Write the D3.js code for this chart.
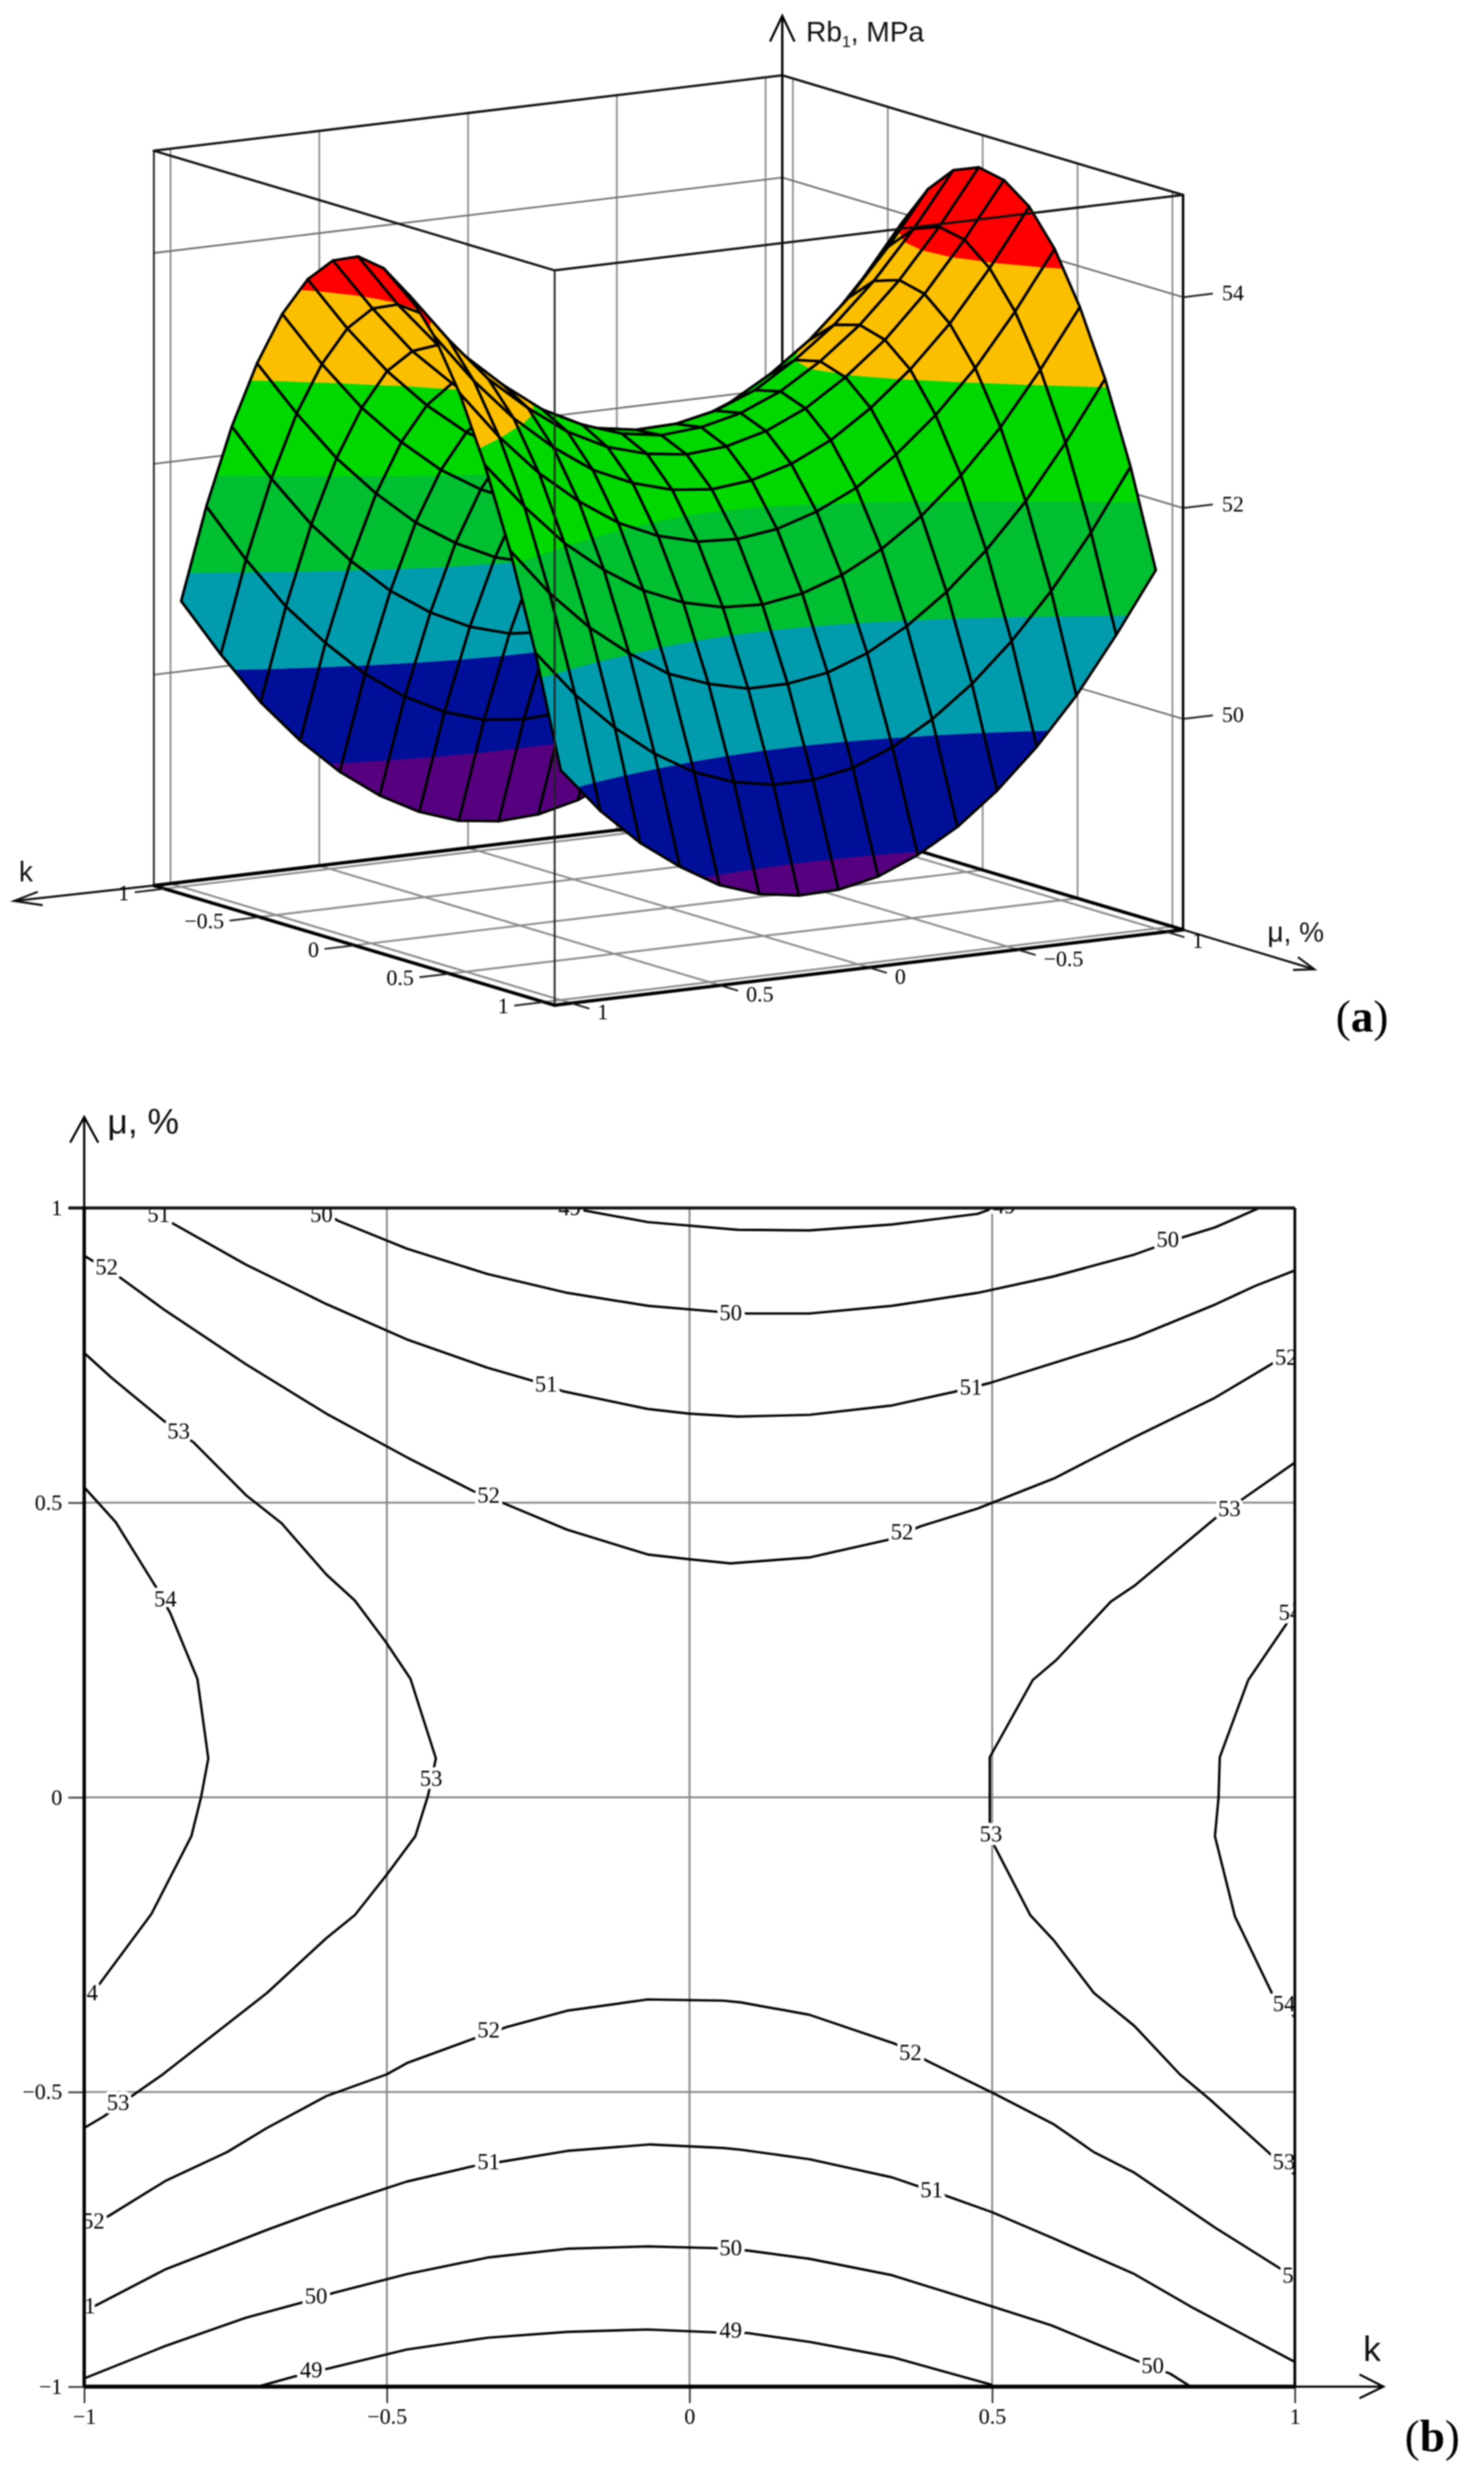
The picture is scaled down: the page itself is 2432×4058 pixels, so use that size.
<!DOCTYPE html>
<html><head><meta charset="utf-8">
<script src="https://cdn.jsdelivr.net/npm/d3@7/dist/d3.min.js"></script>
<style>html,body{margin:0;padding:0;background:#fff}svg{display:block;filter:blur(1.1px)}</style>
</head><body><svg id="c" width="2432" height="4058" xmlns="http://www.w3.org/2000/svg"></svg>
<script>
// ---------- DATA: surface (a) ----------
const kGrid=[-1,-0.867,-0.733,-0.6,-0.467,-0.333,-0.2,-0.067,0.067,0.2,0.333,0.467,0.6,0.733,0.867,1];
const muGrid=[-1,-0.867,-0.733,-0.6,-0.467,-0.333,-0.2,-0.067,0.067,0.2,0.333,0.467,0.6,0.733,0.867,1];
// one row per mu, one column per k
const zTable=[
[49.91,49.46,49.07,48.76,48.54,48.37,48.28,48.26,48.31,48.44,48.64,48.91,49.25,49.66,50.16,50.71],
[51.01,50.55,50.16,49.84,49.60,49.42,49.32,49.30,49.34,49.46,49.65,49.91,50.25,50.64,51.13,51.68],
[51.97,51.50,51.10,50.77,50.53,50.34,50.23,50.20,50.23,50.34,50.52,50.77,51.10,51.49,51.97,52.51],
[52.78,52.31,51.90,51.56,51.31,51.11,50.99,50.95,50.97,51.07,51.25,51.49,51.81,52.19,52.66,53.18],
[53.46,52.97,52.55,52.21,51.94,51.74,51.61,51.56,51.57,51.67,51.83,52.06,52.37,52.74,53.20,53.72],
[53.99,53.50,53.07,52.71,52.44,52.23,52.09,52.03,52.03,52.12,52.27,52.49,52.79,53.16,53.61,54.12],
[54.37,53.87,53.43,53.07,52.79,52.57,52.42,52.35,52.34,52.42,52.56,52.78,53.07,53.42,53.87,54.37],
[54.62,54.11,53.66,53.29,53.00,52.76,52.61,52.53,52.52,52.58,52.72,52.92,53.21,53.55,53.98,54.48],
[54.72,54.20,53.74,53.36,53.06,52.82,52.66,52.57,52.54,52.60,52.73,52.92,53.20,53.53,53.96,54.44],
[54.67,54.15,53.68,53.29,52.98,52.73,52.56,52.46,52.43,52.48,52.59,52.78,53.05,53.37,53.79,54.26],
[54.49,53.95,53.47,53.08,52.76,52.50,52.32,52.21,52.17,52.21,52.32,52.49,52.75,53.07,53.47,53.94],
[54.16,53.61,53.12,52.72,52.39,52.12,51.94,51.82,51.77,51.79,51.89,52.06,52.31,52.62,53.01,53.47],
[53.68,53.13,52.63,52.22,51.88,51.61,51.41,51.28,51.22,51.24,51.33,51.49,51.73,52.03,52.42,52.86],
[53.07,52.51,52.00,51.58,51.23,50.95,50.74,50.60,50.54,50.54,50.63,50.77,51.01,51.30,51.67,52.12],
[52.31,51.73,51.22,50.79,50.43,50.14,49.92,49.77,49.70,49.70,49.77,49.91,50.13,50.42,50.78,51.22],
[51.40,50.83,50.30,49.86,49.49,49.19,48.97,48.81,48.73,48.72,48.78,48.91,49.13,49.40,49.75,50.18]
];
const bandLevels=[30,49,50,51,52,53,54,70];
const bandColors=["#57007f","#000f98","#009cad","#00bf30","#00d800","#fcbf00","#ff0000"];
const axisTicks=[-1,-0.5,0,0.5,1];
const zTicks=[50,52,54];
const boxEdge=1.056, zFloor=48, zRoof=54.97;

// ---------- DATA: contour plot (b), [k, mu] ----------
const c49top=[[-0.19,0.999],[-0.17,0.995],[-0.069,0.976],[0.08,0.963],[0.198,0.962],[0.335,0.972],[0.476,0.99],[0.5,0.999]];
const c50top=[[-0.608,0.995],[-0.58,0.978],[-0.467,0.931],[-0.334,0.888],[-0.202,0.856],[-0.069,0.834],[0.045,0.824],[0.096,0.821],[0.198,0.821],[0.335,0.834],[0.476,0.856],[0.602,0.884],[0.735,0.921],[0.817,0.951],[0.868,0.967],[0.939,0.999]];
const c51top=[[-0.89,0.995],[-0.854,0.974],[-0.733,0.904],[-0.6,0.837],[-0.467,0.777],[-0.334,0.729],[-0.26,0.707],[-0.209,0.689],[-0.069,0.659],[0,0.651],[0.08,0.646],[0.198,0.649],[0.335,0.665],[0.437,0.688],[0.496,0.703],[0.602,0.737],[0.735,0.78],[0.868,0.836],[0.935,0.868],[1,0.894]];
const c52top=[[-1,0.919],[-0.942,0.883],[-0.866,0.826],[-0.733,0.735],[-0.6,0.651],[-0.467,0.577],[-0.358,0.52],[-0.307,0.499],[-0.202,0.454],[-0.069,0.412],[0,0.404],[0.068,0.397],[0.198,0.407],[0.328,0.437],[0.382,0.46],[0.476,0.49],[0.602,0.541],[0.735,0.611],[0.868,0.678],[0.958,0.733],[1,0.762]];
const c53left=[[-1,0.754],[-0.955,0.712],[-0.87,0.64],[-0.819,0.602],[-0.733,0.513],[-0.674,0.465],[-0.6,0.378],[-0.553,0.334],[-0.502,0.264],[-0.461,0.201],[-0.419,0.066],[-0.432,0.003],[-0.453,-0.066],[-0.5,-0.131],[-0.553,-0.2],[-0.6,-0.239],[-0.698,-0.332],[-0.87,-0.47],[-0.916,-0.503],[-0.967,-0.541],[-1,-0.561]];
const c54left=[[-1,0.526],[-0.948,0.467],[-0.881,0.356],[-0.858,0.313],[-0.813,0.201],[-0.795,0.066],[-0.807,0],[-0.823,-0.066],[-0.889,-0.198],[-0.975,-0.317],[-1,-0.343]];
const c53right=[[1,0.568],[0.915,0.507],[0.868,0.473],[0.735,0.359],[0.696,0.332],[0.606,0.233],[0.567,0.199],[0.496,0.068],[0.496,0],[0.496,-0.045],[0.504,-0.083],[0.563,-0.2],[0.602,-0.243],[0.668,-0.332],[0.735,-0.388],[0.81,-0.47],[0.86,-0.513],[0.958,-0.604],[1,-0.64]];
const c54right=[[1,0.33],[0.986,0.294],[0.923,0.199],[0.876,0.068],[0.874,0],[0.868,-0.066],[0.901,-0.202],[0.962,-0.332],[1,-0.373]];
const c52low=[[-1,-0.73],[-0.959,-0.71],[-0.866,-0.651],[-0.764,-0.602],[-0.698,-0.561],[-0.6,-0.507],[-0.5,-0.47],[-0.467,-0.451],[-0.358,-0.41],[-0.303,-0.39],[-0.202,-0.362],[-0.069,-0.343],[0.056,-0.345],[0.085,-0.348],[0.198,-0.369],[0.339,-0.418],[0.392,-0.447],[0.5,-0.501],[0.602,-0.555],[0.668,-0.602],[0.735,-0.637],[0.868,-0.73],[0.978,-0.801],[1,-0.815]];
const c51low=[[-1,-0.872],[-0.971,-0.857],[-0.866,-0.801],[-0.698,-0.734],[-0.6,-0.697],[-0.5,-0.663],[-0.467,-0.652],[-0.358,-0.626],[-0.303,-0.617],[-0.202,-0.6],[-0.065,-0.589],[0.056,-0.595],[0.085,-0.598],[0.198,-0.614],[0.335,-0.645],[0.429,-0.678],[0.5,-0.704],[0.598,-0.747],[0.735,-0.809],[0.833,-0.867],[1,-0.958]];
const c50low=[[-1,-0.986],[-0.866,-0.931],[-0.733,-0.883],[-0.639,-0.857],[-0.588,-0.841],[-0.467,-0.809],[-0.334,-0.781],[-0.202,-0.766],[-0.069,-0.762],[0.045,-0.765],[0.096,-0.769],[0.198,-0.783],[0.335,-0.811],[0.5,-0.864],[0.598,-0.896],[0.739,-0.956],[0.794,-0.978],[0.825,-0.998]];
const c49low=[[-0.713,-1],[-0.643,-0.98],[-0.596,-0.969],[-0.467,-0.937],[-0.334,-0.917],[-0.202,-0.907],[-0.069,-0.903],[0.045,-0.908],[0.096,-0.909],[0.198,-0.924],[0.335,-0.95],[0.5,-0.997]];
const contourLines=[c49top,c50top,c51top,c52top,c53left,c54left,c53right,c54right,c52low,c51low,c50low,c49low];
// [text, k, mu]
const contourLabels=[
["49",-0.198,1.0],["49",0.52,1.003],["50",-0.608,0.989],["50",0.068,0.822],["50",0.79,0.946],
["51",-0.877,0.989],["51",-0.237,0.701],["51",0.465,0.695],
["52",-0.963,0.9],["52",-0.332,0.512],["52",0.351,0.45],["52",0.986,0.746],
["53",-0.844,0.621],["53",-0.427,0.032],["53",-0.944,-0.518],["53",0.892,0.489],["53",0.498,-0.063],["53",0.982,-0.619],
["54",-0.866,0.336],["54",-0.996,-0.332],["54",0.992,0.313],["54",0.982,-0.351],
["52",-0.985,-0.719],["52",-0.332,-0.395],["52",0.365,-0.433],["52",0.998,-0.811],
["51",-1,-0.863],["51",-0.332,-0.619],["51",0.4,-0.667],
["50",-0.617,-0.847],["50",0.068,-0.765],["50",0.765,-0.965],
["49",-0.625,-0.972],["49",0.068,-0.905]
];
const contourTicks=[-1,-0.5,0,0.5,1];

// ---------- DRAW ----------
const svg=d3.select("#c");
svg.append("rect").attr("width",2432).attr("height",4058).attr("fill","#fff");
const serif="'Liberation Serif','Times New Roman',serif", sans="'Liberation Sans',Arial,sans-serif";
const line=d3.line();

// ===== (a) oblique parallel projection =====
const kX=d3.scaleLinear().domain([-1,1]).range([487.6,-487.6]);
const kY=d3.scaleLinear().domain([-1,1]).range([-58.5,58.5]);
const muX=d3.scaleLinear().domain([-1,1]).range([-311,311]);
const muY=d3.scaleLinear().domain([-1,1]).range([-92.8,92.8]);
const zY=d3.scaleLinear().domain([48,55]).range([0,-1209]);
const P=(k,m,z)=>[1095.5+kX(k)+muX(m),1487+kY(k)+muY(m)+zY(z)];
const A=svg.append("g");
function seg(g,a,b,col,w){g.append("path").attr("d",line([P(...a),P(...b)])).attr("fill","none").attr("stroke",col).attr("stroke-width",w).attr("stroke-linecap","round");}
const E=boxEdge,gray="#8c8c8c";
// floor grid
axisTicks.forEach(t=>{seg(A,[t,-E,zFloor],[t,E,zFloor],gray,3.2);seg(A,[-E,t,zFloor],[E,t,zFloor],gray,3.2);});
// back walls
axisTicks.forEach(t=>{seg(A,[t,-E,zFloor],[t,-E,zRoof],gray,2.8);seg(A,[-E,t,zFloor],[-E,t,zRoof],gray,2.8);});
zTicks.forEach(z=>{seg(A,[E,-E,z],[-E,-E,z],"#6f6f6f",2.8);seg(A,[-E,-E,z],[-E,E,z],"#6f6f6f",2.8);});
// back box edges
seg(A,[E,-E,zFloor],[-E,-E,zFloor],"#000",5.5);
seg(A,[-E,-E,zFloor],[-E,E,zFloor],"#000",5.5);
seg(A,[E,-E,zRoof],[-E,-E,zRoof],"#111",3.8);
seg(A,[-E,-E,zRoof],[-E,E,zRoof],"#111",3.8);
seg(A,[E,-E,zFloor],[E,-E,zRoof],"#222",3);
seg(A,[-E,E,zFloor],[-E,E,zRoof],"#000",4);
// back vertical & z axis
const backBot=P(-E,-E,zFloor);
A.append("path").attr("d",line([backBot,[backBot[0],26]])).attr("stroke","#000").attr("stroke-width",3.8).attr("fill","none");
A.append("path").attr("d",line([[backBot[0]-20,68],[backBot[0],26],[backBot[0]+20,68]])).attr("stroke","#000").attr("stroke-width",3.6).attr("fill","none");

// surface cells, far to near
function clipZ(poly,level,keepAbove){
  const out=[];
  poly.forEach((p,i)=>{
    const q=poly[(i+1)%poly.length];
    const pIn=keepAbove?p[2]>=level:p[2]<=level, qIn=keepAbove?q[2]>=level:q[2]<=level;
    if(pIn)out.push(p);
    if(pIn!==qIn){const t=(level-p[2])/(q[2]-p[2]);out.push([p[0]+t*(q[0]-p[0]),p[1]+t*(q[1]-p[1]),level]);}
  });
  return out;
}
const surfaceG=A.append("g");
kGrid.slice(0,-1).forEach((k,i)=>{
  muGrid.slice(0,-1).forEach((m,j)=>{
    const cell=[[k,m,zTable[j][i]],[kGrid[i+1],m,zTable[j][i+1]],[kGrid[i+1],muGrid[j+1],zTable[j+1][i+1]],[k,muGrid[j+1],zTable[j+1][i]]];
    bandColors.forEach((col,b)=>{
      let poly=clipZ(cell,bandLevels[b],true);
      if(poly.length>2)poly=clipZ(poly,bandLevels[b+1],false);
      if(poly.length>2)surfaceG.append("path").attr("d",line(poly.map(p=>P(...p)))+"Z").attr("fill",col).attr("stroke",col).attr("stroke-width",0.8);
    });
    surfaceG.append("path").attr("d",line(cell.map(p=>P(...p)))+"Z").attr("fill","none").attr("stroke","#000").attr("stroke-width",4.3).attr("stroke-linejoin","round");
  });
});
// front box edges
seg(A,[E,-E,zRoof],[E,E,zRoof],"#111",3.8);
seg(A,[E,E,zRoof],[-E,E,zRoof],"#111",3.8);
seg(A,[E,E,zFloor],[E,E,zRoof],"#222",3);
seg(A,[E,-E,zFloor],[E,E,zFloor],"#000",5.5);
seg(A,[E,E,zFloor],[-E,E,zFloor],"#000",5.5);
// ticks and labels (a)
const T=(x,y,s,anchor,size,font,fill)=>svg.append("text").attr("x",x).attr("y",y).attr("text-anchor",anchor||"start").attr("font-size",size||36).attr("font-family",font||serif).attr("fill",fill||"#000").text(s);
const fmt=d3.format("~g");
axisTicks.forEach(t=>{
  const a=P(E,t,zFloor),b=P(E+0.1,t,zFloor);
  A.append("path").attr("d",line([a,b])).attr("stroke","#222").attr("stroke-width",3);
  T(b[0]-9,b[1]+13,fmt(t===-1?1:t),"end");
  const c=P(t,E,zFloor),d=P(t,E+0.095,zFloor);
  A.append("path").attr("d",line([c,d])).attr("stroke","#222").attr("stroke-width",3);
  T(d[0]+13,d[1]+18,fmt(t===-1?1:t),"start");
});
zTicks.forEach(z=>{
  const a=P(-E,E,z),b=P(-E-0.1,E,z);
  A.append("path").attr("d",line([a,b])).attr("stroke","#222").attr("stroke-width",3);
  T(b[0]+15,b[1]+11,fmt(z),"start");
});
// k and mu axes (a)
const lk=P(E,-E,zFloor), rm=P(-E,E,zFloor);
A.append("path").attr("d",line([lk,[23,1476]])).attr("stroke","#111").attr("stroke-width",3.4).attr("fill","none");
A.append("path").attr("d",line([[62,1461],[23,1476],[70,1483]])).attr("stroke","#111").attr("stroke-width",3.4).attr("fill","none");
A.append("path").attr("d",line([rm,[2154,1588]])).attr("stroke","#111").attr("stroke-width",3.4).attr("fill","none");
A.append("path").attr("d",line([[2127,1568],[2154,1588],[2119,1589]])).attr("stroke","#111").attr("stroke-width",3.4).attr("fill","none");
T(31,1444,"k","start",46,sans,"#111");
T(2077,1543,"μ, %","start",46,sans,"#111");
const rb=T(1321,68,"Rb","start",46,sans,"#111");
rb.append("tspan").attr("dy",9).attr("font-size",26).text("1");
rb.append("tspan").attr("dy",-9).text(", MPa");
const la=T(2189,1690,"(","start",74,serif,"#000");
la.append("tspan").attr("font-weight","bold").text("a");la.append("tspan").text(")");

// ===== (b) contour plot =====
const x=d3.scaleLinear().domain([-1,1]).range([138,2122]);
const y=d3.scaleLinear().domain([-1,1]).range([3910,1979]);
const B=svg.append("g");
const defs=svg.append("defs");
defs.append("clipPath").attr("id","plotClip").append("rect").attr("x",x(-1)).attr("y",y(1)).attr("width",x(1)-x(-1)).attr("height",y(-1)-y(1));
// grid
B.append("g").selectAll("line").data(contourTicks.slice(1,-1)).join("line").attr("x1",d=>x(d)).attr("x2",d=>x(d)).attr("y1",y(1)).attr("y2",y(-1)).attr("stroke","#858585").attr("stroke-width",3);
B.append("g").selectAll("line").data(contourTicks.slice(1,-1)).join("line").attr("y1",d=>y(d)).attr("y2",d=>y(d)).attr("x1",x(-1)).attr("x2",x(1)).attr("stroke","#858585").attr("stroke-width",3);
// contours
const cLine=d3.line().x(d=>x(d[0])).y(d=>y(d[1]));
const P2=B.append("g").attr("clip-path","url(#plotClip)");
P2.selectAll("path").data(contourLines).join("path").attr("d",cLine).attr("fill","none").attr("stroke","#000").attr("stroke-width",3.9).attr("stroke-linejoin","round");
P2.selectAll("text").data(contourLabels).join("text").attr("x",d=>x(d[1])).attr("y",d=>y(d[2])+12).attr("text-anchor","middle")
  .attr("font-family",serif).attr("font-size",37).attr("fill","#000").attr("stroke","#fff").attr("stroke-width",12).attr("paint-order","stroke").attr("stroke-linejoin","round").text(d=>d[0]);
// axes
const axB=B.append("g").attr("transform",`translate(0,${y(-1)})`).call(d3.axisBottom(x).tickValues(contourTicks).tickFormat(fmt).tickSize(27).tickPadding(8));
const axL=B.append("g").attr("transform",`translate(${x(-1)},0)`).call(d3.axisLeft(y).tickValues(contourTicks).tickFormat(fmt).tickSize(26).tickPadding(10));
[axB,axL].forEach(a=>{a.select(".domain").remove();a.selectAll("line").attr("stroke","#444").attr("stroke-width",3);a.selectAll("text").attr("font-family",serif).attr("font-size",36).attr("fill","#000");});
// frame
B.append("path").attr("d",line([[x(-1)-26,y(1)],[x(1),y(1)]])).attr("stroke","#111").attr("stroke-width",5).attr("fill","none");
B.append("path").attr("d",line([[x(-1),y(-1)],[x(1),y(-1)]])).attr("stroke","#000").attr("stroke-width",6.5).attr("fill","none");
B.append("path").attr("d",line([[x(-1),y(1)],[x(-1),y(-1)]])).attr("stroke","#000").attr("stroke-width",5.5).attr("fill","none");
B.append("path").attr("d",line([[x(1),y(1)],[x(1),y(-1)]])).attr("stroke","#000").attr("stroke-width",4.5).attr("fill","none");
// arrow axes
B.append("path").attr("d",line([[x(-1),y(1)],[x(-1),1830]])).attr("stroke","#000").attr("stroke-width",3.6).attr("fill","none");
B.append("path").attr("d",line([[115,1872],[x(-1),1830],[161,1872]])).attr("stroke","#000").attr("stroke-width",3.6).attr("fill","none");
B.append("path").attr("d",line([[x(1),y(-1)],[2267,y(-1)]])).attr("stroke","#000").attr("stroke-width",3.6).attr("fill","none");
B.append("path").attr("d",line([[2228,3890],[2267,y(-1)],[2228,3929]])).attr("stroke","#000").attr("stroke-width",3.6).attr("fill","none");
T(176,1857,"μ, %","start",58,sans,"#111");
T(2234,3868,"k","start",58,sans,"#111");
const lb=T(2302,4016,"(","start",74,serif,"#000");
lb.append("tspan").attr("font-weight","bold").text("b");lb.append("tspan").text(")");
</script></body></html>
